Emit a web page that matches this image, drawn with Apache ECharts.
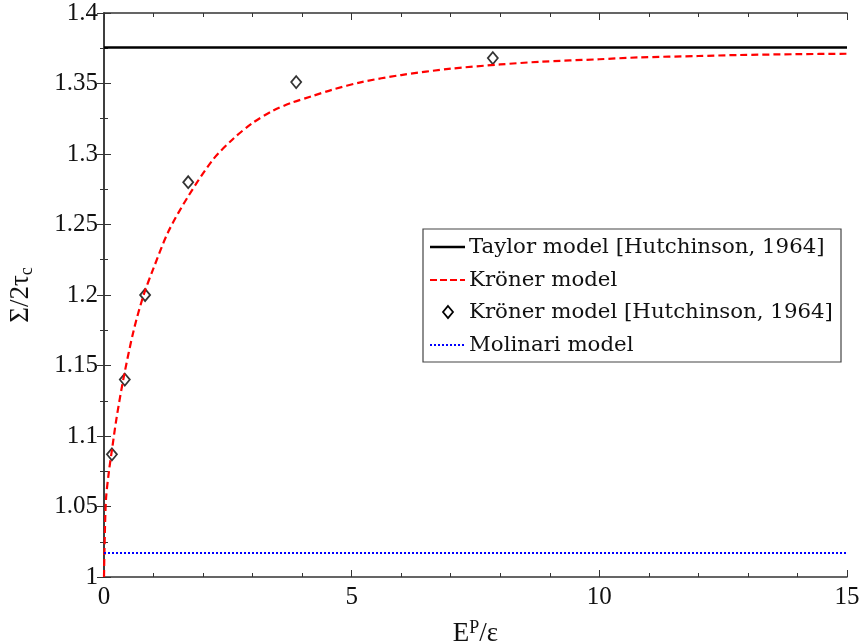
<!DOCTYPE html>
<html><head><meta charset="utf-8">
<script src="https://cdn.jsdelivr.net/npm/echarts@6/dist/echarts.min.js"></script>
<style>html,body{margin:0;padding:0;background:#fff}#c{width:859px;height:644px}</style>
</head><body><div id="c"></div>
<script>
// Data
const taylorX = [0, 15];
const taylorY = [1.3755, 1.3755];
const kronerX = [0, 0.01, 0.04, 0.1, 0.16, 0.25, 0.4, 0.6, 0.8, 1.0, 1.3, 1.7, 2.2, 2.6, 3.0, 3.4, 3.8, 4.2, 4.6, 5.2, 6.0, 7.0, 8.0, 8.8, 10, 10.8, 12, 12.8, 14, 15];
const kronerY = [1.0, 1.02, 1.055, 1.075, 1.09, 1.112, 1.142, 1.175, 1.2, 1.219, 1.245, 1.27, 1.296, 1.3105, 1.322, 1.3305, 1.3365, 1.341, 1.3455, 1.351, 1.356, 1.3605, 1.3635, 1.3654, 1.3672, 1.3685, 1.3695, 1.3702, 1.3708, 1.3711];
const hutchX = [0.16, 0.42, 0.83, 1.7, 3.88, 7.85];
const hutchY = [1.087, 1.14, 1.2, 1.28, 1.351, 1.368];
const molinariX = [0, 15];
const molinariY = [1.017, 1.017];
const seriesNames = ['Taylor model [Hutchinson, 1964]', 'Kröner model', 'Kröner model [Hutchinson, 1964]', 'Molinari model'];

const zip = (xs, ys) => xs.map((x, i) => [x, ys[i]]);
const FONT = 'Liberation Serif';
const LFONT = 'DejaVu Serif';
const axisCol = '#333';

const chart = echarts.init(document.getElementById('c'));
const baseX = {
  type: 'value', min: 0, max: 15, interval: 5,
  axisLine: {show: true, lineStyle: {color: axisCol, width: 1.5}},
  axisTick: {show: true, inside: true, length: 7, lineStyle: {color: axisCol}},
  minorTick: {show: true, splitNumber: 5, length: 4, lineStyle: {color: axisCol}},
  splitLine: {show: false}
};
const baseY = {
  type: 'value', min: 1, max: 1.4, interval: 0.05,
  axisLine: {show: true, lineStyle: {color: axisCol, width: 1.5}},
  axisTick: {show: true, inside: true, length: 7, lineStyle: {color: axisCol}},
  minorTick: {show: true, splitNumber: 2, length: 4, lineStyle: {color: axisCol}},
  splitLine: {show: false}
};

// legend drawn as graphic (box, sample marks, texts)
const lgX = 423, lgY = 229, lgW = 418, lgH = 133;
const rowY = [247, 280, 312, 345];
const legendGraphic = [
  {type: 'rect', shape: {x: lgX, y: lgY, width: lgW, height: lgH}, style: {fill: '#fff', stroke: '#444', lineWidth: 1.2}, z: 100},
  {type: 'line', shape: {x1: 430, y1: rowY[0], x2: 465, y2: rowY[0]}, style: {stroke: '#000', lineWidth: 2.5}, z: 101},
  {type: 'line', shape: {x1: 430, y1: rowY[1], x2: 465, y2: rowY[1]}, style: {stroke: '#ff0000', lineWidth: 2.2, lineDash: [7, 3]}, z: 101},
  {type: 'polygon', shape: {points: [[448, rowY[2] - 6], [453, rowY[2]], [448, rowY[2] + 6], [443, rowY[2]]]}, style: {fill: '#fff', stroke: '#000', lineWidth: 1.8}, z: 101},
  {type: 'line', shape: {x1: 430, y1: rowY[3], x2: 465, y2: rowY[3]}, style: {stroke: '#0000ff', lineWidth: 2, lineDash: [2, 2]}, z: 101}
].concat(seriesNames.map((n, i) => ({
  type: 'text', x: 469, y: rowY[i], z: 101,
  style: {text: n, fontFamily: LFONT, fontSize: 21.3, fill: '#111', verticalAlign: 'middle', align: 'left'}
})));

chart.setOption({
  animation: false,
  backgroundColor: '#fff',
  grid: {left: 104, right: 12, top: 13, bottom: 67, containLabel: false, outerBoundsMode: 'none'},
  xAxis: [
    Object.assign({}, baseX, {
      position: 'bottom',
      axisLabel: {fontFamily: FONT, fontSize: 25, color: '#111', margin: 8},
      name: '{b|E}{sup|P}{b|/ε}', nameLocation: 'middle', nameGap: 42,
      nameTextStyle: {rich: {
        b: {fontFamily: FONT, fontSize: 27, color: '#111', verticalAlign: 'bottom'},
        sup: {fontFamily: FONT, fontSize: 18, color: '#111', verticalAlign: 'top', padding: [0, 0, 10, 0]}
      }}
    }),
    Object.assign({}, baseX, {position: 'top', axisLabel: {show: false}})
  ],
  yAxis: [
    Object.assign({}, baseY, {
      position: 'left',
      axisLabel: {fontFamily: FONT, fontSize: 25, color: '#111', margin: 6},
      name: '{b|Σ/2τ}{sub|c}', nameLocation: 'middle', nameGap: 68, nameRotate: 90,
      nameTextStyle: {rich: {
        b: {fontFamily: FONT, fontSize: 27, color: '#111'},
        sub: {fontFamily: FONT, fontSize: 18, color: '#111', padding: [12, 0, 0, 0]}
      }}
    }),
    Object.assign({}, baseY, {position: 'right', axisLabel: {show: false}})
  ],
  graphic: legendGraphic,
  series: [
    {name: seriesNames[0], type: 'line', data: zip(taylorX, taylorY), showSymbol: false, symbol: 'none',
     lineStyle: {color: '#000', width: 2.5}},
    {name: seriesNames[1], type: 'line', data: zip(kronerX, kronerY), showSymbol: false, symbol: 'none', smooth: 0.3,
     lineStyle: {color: '#ff0000', width: 2.2, type: [7, 4]}},
    {name: seriesNames[2], type: 'scatter', data: zip(hutchX, hutchY), symbol: 'diamond', symbolSize: [10, 12],
     itemStyle: {color: '#fff', borderColor: '#000', borderWidth: 1.8}},
    {name: seriesNames[3], type: 'line', data: zip(molinariX, molinariY), showSymbol: false, symbol: 'none',
     lineStyle: {color: '#0000ff', width: 2, type: [2, 2]}}
  ]
});
</script></body></html>
